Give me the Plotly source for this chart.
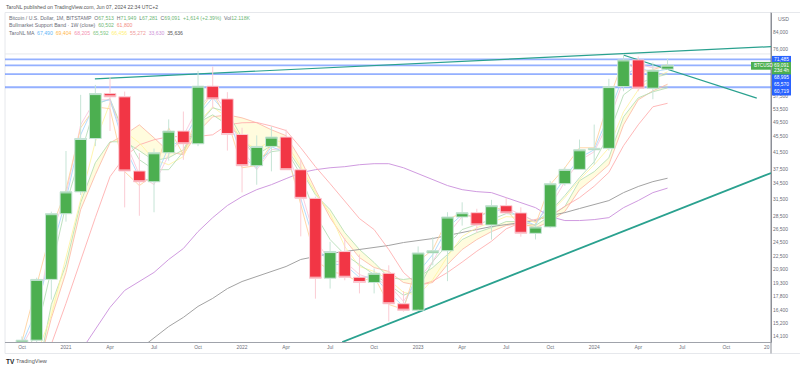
import math
import plotly.graph_objects as go

months = list(range(45))
opens = [10800,13800,19700,28950,32900,44970,58500,57400,37170,34900,41370,46970,43600,61100,56700,46040,38340,42930,45350,37450,31670,19840,23190,19950,19350,20420,17080,16450,23010,23300,28400,29120,27100,30340,29080,25810,26790,34510,37530,42100,42450,60960,71270,60390,67513]
highs = [14100,19900,29300,41800,58070,61560,64400,59200,41300,42400,50300,52670,66820,68530,59000,47900,45800,48270,47400,39800,32000,24550,25100,22800,21000,21400,18400,23900,25250,29200,30950,29800,31400,31800,30050,27400,35100,38000,44700,48800,63800,73800,72700,70200,71949]
lows = [9900,13200,17500,27630,32300,43000,47000,30040,28600,29190,39500,39700,43000,53500,41900,32800,34300,37100,37400,25350,17600,18670,19600,18150,18150,15400,16300,16500,21400,19500,27000,25900,24870,28900,25300,24900,26600,34100,37600,38570,41900,59300,59300,56600,67281]
closes = [13800,19700,28950,32900,44970,58500,57400,37170,34900,41370,46970,43600,61100,56700,46040,38340,42930,45350,37450,31670,19840,23190,19950,19350,20420,17080,16450,23010,23300,28400,29120,27100,30340,29080,25810,26790,34510,37530,42100,42450,60960,71270,60390,67100,69091]

ma_orange = [13710,18900,26380,33330,47870,54150,53530,37030,34140,36370,47870,40890,52270,58760,50180,37890,38370,43350,42110,30530,22140,20640,20270,19350,20040,17010,16530,21880,23470,27970,29130,27970,29990,29650,26850,27160,34320,37890,42590,42590,56410,71270,66440,67220,69404]
ma_blue = [13470,16530,23200,31440,45960,55430,56410,42850,35740,34930,42850,44640,51660,57050,51660,40430,37890,42850,41380,31440,24160,21500,21500,19920,20040,18260,16820,20520,22790,26680,28790,28460,29310,29840,28140,27020,31440,35740,40170,42110,51660,65270,67990,66440,67490]
ma_pink = [13320,15590,25620,32360,48730,56410,56410,44640,36370,34320,40890,45720,53820,58760,52580,42110,37460,42110,42590,33330,24880,21880,21880,20270,19690,19120,17320,19690,21880,25620,28460,28790,29130,29990,28790,27650,30180,34930,39490,41620,49600,63400,69630,67990,68205]
ma_green = [12340,14440,20880,30530,40890,54770,56750,45960,39720,37460,37460,41620,48730,53820,52580,45150,39720,41620,42110,36370,28790,24880,22790,21500,20270,19120,17950,18580,21880,24160,26380,27160,27970,28970,28790,27650,29310,32200,35740,39260,45960,58070,61940,64130,65592]
ma_yellow = [10650,12690,15970,22530,31440,44120,55430,46780,43860,39720,38570,40430,49310,54150,50750,44640,42110,44640,43860,38130,32750,28970,23880,21250,20640,19690,18260,17950,19690,22530,25320,26680,27480,28460,28290,27480,29130,31800,35340,38570,42590,52580,59800,64130,66456]
ma_red = [None,10060,13470,17120,22140,28290,35960,40430,43350,44640,45440,45440,45530,45960,48730,49310,49400,48380,47130,42590,38130,34520,31080,28140,26380,23470,20520,19020,19500,20520,21800,23240,24630,26490,27480,27970,28520,30230,31800,34010,36870,43120,48730,54150,55272]
ma_purple = [None,None,None,None,12930,14700,16720,18470,19460,20520,22140,23610,26070,28290,30370,32000,33330,34320,35550,36810,37460,37890,38130,38570,38800,38800,37890,36600,35340,34140,33330,32940,32750,31800,30890,29990,28460,27810,27810,27970,28290,29990,31260,32750,33630]
ma_gray = [None,None,None,None,None,None,None,None,13080,13950,14950,15770,16820,17630,18670,19460,20040,20640,21250,22140,22530,22930,23200,23470,23740,24040,24450,24740,25030,25480,25920,26380,26850,27160,27480,27810,28630,29130,29840,30530,31260,32750,33950,34930,35636]
band_red = [None,11290,15690,20520,29650,36370,43860,45960,48730,45150,41620,40890,46780,51070,51660,50750,49310,47330,45720,39720,33330,28290,24880,22390,21120,20640,19350,19020,19350,21500,23470,24880,26070,27020,27330,26680,27650,29310,33330,35740,38570,48730,56410,59450,61800]
band_green = [None,10970,17010,21500,30890,39030,44120,44120,41870,39490,40170,42110,49310,51660,48730,45150,40890,43120,42590,37460,32360,29650,25920,23470,21750,19920,19690,19920,21120,22790,24880,25920,26680,27650,27650,27020,28630,30180,35130,37030,40170,51070,57050,59110,60502]

levels = [71485, 68995, 65570, 60719]
trend_a_x, trend_a_y = [4.97, 51.05], [63790, 77030]
trend_b_x, trend_b_y = [40.98, 50.08], [73360, 56960]
trend_c_x, trend_c_y = [21.83, 51.05], [13650, 36740]

x_tickvals = [0,3,6,9,12,15,18,21,24,27,30,33,36,39,42,45,48]
x_ticktext = ["Oct","2021","Apr","Jul","Oct","2022","Apr","Jul","Oct","2023","Apr","Jul","Oct","2024","Apr","Jul","Oct"]
y_ticks = [84000,76000,57500,53500,49500,45500,41500,37500,34500,31500,28500,26500,24500,22500,20900,19300,17800,16400,15200,14100]

W, H = 800, 370
L, R, T, B = 4.5, 771, 13, 342.5
FONT = "Liberation Sans"
TXT = "#6a6d78"
GRN = "#4caf50"
RED = "#f23645"

def px(x): return (x - L) / (R - L)
def py(y): return (B - y) / (B - T)

xr = [-1.157, 51.05]
yr = [math.log10(13654), math.log10(93800)]

fig = go.Figure()

def line(x, y, color, width=0.85, **kw):
    fig.add_trace(go.Scatter(x=x, y=y, mode="lines", line=dict(color=color, width=width),
                             hoverinfo="skip", showlegend=False, connectgaps=False, **kw))

for lv in levels:
    line([xr[0], xr[1]], [lv, lv], "rgba(41,98,255,0.5)", 1.8)

line(months, band_red, "#fbb9a8")
line(months, band_green, "#b5deb2", fill="tonexty", fillcolor="rgba(255,240,90,0.2)")
line(months, ma_purple, "#d09be0", 1)
line(months, ma_gray, "#a3a3a3", 1)
line(months, ma_red, "#ffabab")
line(months, ma_yellow, "#fff3a0")
line(months, ma_green, "#b2dcb4")
line(months, ma_pink, "#f9c4da")
line(months, ma_blue, "#a6d6fb")
line(months, ma_orange, "#ffd09a")
line(trend_a_x, trend_a_y, "#2aa18f", 1.2)
line(trend_b_x, trend_b_y, "#2aa18f", 1.2)
line(trend_c_x, trend_c_y, "#2aa18f", 1.8)

fig.add_trace(go.Candlestick(
    x=months, open=opens, high=highs, low=lows, close=closes, xaxis="x2", yaxis="y2",
    increasing=dict(fillcolor=GRN, line=dict(color="#c6e4d6", width=1)),
    decreasing=dict(fillcolor=RED, line=dict(color="#fbccd4", width=1)),
    whiskerwidth=0, hoverinfo="skip", showlegend=False))

axis_font = dict(family=FONT, size=4.9, color=TXT)
fig.update_layout(
    width=W, height=H, autosize=False,
    margin=dict(l=L, r=W - R, t=T, b=H - B, pad=0),
    paper_bgcolor="white", plot_bgcolor="white", showlegend=False, boxgap=0.2, boxgroupgap=0,
    xaxis=dict(range=xr, tickvals=x_tickvals, ticktext=x_ticktext, tickfont=axis_font, showgrid=False,
               zeroline=False, ticks="", ticklen=0, showline=True, linecolor="#a0a3ab", linewidth=1,
               rangeslider=dict(visible=False), fixedrange=True),
    yaxis=dict(type="log", range=yr, side="right", tickvals=y_ticks, ticktext=[f"{v:,}" for v in y_ticks],
               tickfont=axis_font, showgrid=False, zeroline=False, ticks="", showline=True,
               linecolor="#8c8f97", linewidth=1, fixedrange=True),
    xaxis2=dict(range=xr, overlaying="x", visible=False, rangeslider=dict(visible=False), fixedrange=True),
    yaxis2=dict(type="log", range=yr, overlaying="y", side="right", visible=False, fixedrange=True),
)

def note(x, y, text, size=5.15, color=TXT, anchor="left", **kw):
    fig.add_annotation(x=px(x), y=py(y), xref="paper", yref="paper", text=text, showarrow=False,
                       xanchor=anchor, yanchor="middle", font=dict(family=FONT, size=size, color=color),
                       align="left", borderpad=0, **kw)

def c(t, col): return f'<span style="color:{col}">{t}</span>'

note(5, 6.5, "TaroNL published on TradingView.com, Jun 07, 2024 22:34 UTC+2", 5.15, "#555")
G2 = "#6fb878"
note(8, 18.5, "Bitcoin / U.S. Dollar, 1M, BITSTAMP  O" + c("67,513", G2) + "  H" + c("71,949", G2) + "  L" + c("67,281", G2)
     + "  C" + c("69,091", G2) + "  " + c("+1,614 (+2.39%)", G2) + "  Vol" + c("12.118K", G2))
note(8, 25.5, "Bullmarket Support Band · 1W (close)  " + c("60,502", G2) + "  " + c("61,800", "#f28b82"))
note(8, 32.6, "TaroNL MA  " + c("67,490", "#64b5f6") + "  " + c("69,404", "#ffb74d") + "  " + c("68,205", "#f48fb1") + "  "
     + c("65,592", "#81c784") + "  " + c("66,456", "#fff176") + "  " + c("55,272", "#ef9a9a") + "  " + c("33,630", "#ce93d8") + "  " + c("35,636", "#555"))
note(777, 19, "USD")
note(771, 348, "20", anchor="right", size=4.9)
note(5, 362, "<b>TV</b>", 6.5, "#222")
note(15, 362, "TradingView", 5.6, "#555")

def rect(x0, y0, x1, y1, fill):
    fig.add_shape(type="rect", xref="paper", yref="paper", x0=px(x0), x1=px(x1), y0=py(y0), y1=py(y1),
                  fillcolor=fill, line=dict(width=0), layer="above")

def rule(x0, y0, x1, y1, color):
    fig.add_shape(type="line", xref="paper", yref="paper", x0=px(x0), x1=px(x1), y0=py(y0), y1=py(y1),
                  line=dict(color=color, width=1), layer="below")

rule(4.5, 12.5, 800, 12.5, "#e6e8ec")
rule(4.5, 12.5, 4.5, 354, "#e6e8ec")
rule(4.5, 354, 800, 354, "#e6e8ec")
rule(4.5, 54, 771, 54, "#e6e8ec")
rule(771, 12.5, 771, 354, "#8c8f97")

rect(772, 56, 791, 95.6, "#2962ff")
rect(772, 62, 791, 74.5, GRN)
rect(751, 62, 771, 69.8, GRN)
for y, t in [(59.3, "71,485"), (66, "69,091"), (71, "23d 4h"), (78, "68,995"), (85, "65,570"), (92, "60,719")]:
    note(773.5, y, t, 4.9, "white")
note(752.5, 66, "BTCUSD", 4.6, "white")

fig.write_html("out.html", config=dict(displayModeBar=False, staticPlot=True),
               post_script="document.body.style.margin='0';")
